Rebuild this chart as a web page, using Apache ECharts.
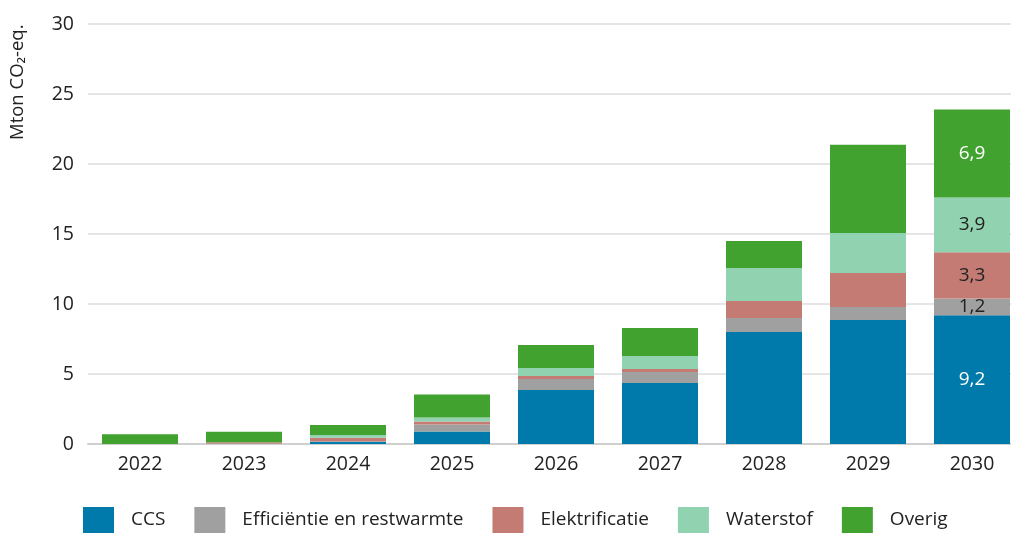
<!DOCTYPE html>
<html>
<head>
<meta charset="utf-8">
<script src="https://cdn.jsdelivr.net/npm/echarts@6/dist/echarts.min.js"></script>
<style>
html, body { margin: 0; padding: 0; background: #fff; overflow: hidden; }
#chart { width: 1024px; height: 534px; }
</style>
</head>
<body>
<div id="chart"></div>
<script>
var years = ['2022', '2023', '2024', '2025', '2026', '2027', '2028', '2029', '2030'];
var ccs = [0, 0, 0.15, 0.9, 3.86, 4.36, 8.0, 8.86, 9.2];
var efficientie = [0, 0.03, 0.05, 0.5, 0.79, 0.79, 1.0, 0.93, 1.2];
var elektrificatie = [0, 0.1, 0.25, 0.21, 0.21, 0.21, 1.21, 2.43, 3.3];
var waterstof = [0, 0, 0.2, 0.29, 0.57, 0.93, 2.36, 2.86, 3.9];
var overig = [0.7, 0.75, 0.7, 1.64, 1.64, 2.0, 1.93, 6.29, 6.3];
// labels printed on the 2030 bar, as in the source
var labels2030 = ['9,2', '1,2', '3,3', '3,9', '6,9'];
var yTicks = [0, 5, 10, 15, 20, 25, 30];

var font = '"Open Sans", "Noto Sans", sans-serif';

function makeSeries(name, values, color, labelText, labelColor) {
    return {
        name: name,
        type: 'bar',
        stack: 'totaal',
        barWidth: 76,
        itemStyle: { color: color },
        data: values.map(function (v, i) {
            if (i !== values.length - 1) return v;
            return {
                value: v,
                label: {
                    show: true,
                    position: 'inside',
                    formatter: labelText,
                    color: labelColor,
                    fontSize: 19,
                    fontFamily: font
                }
            };
        })
    };
}

// the plot runs to the window's right edge, so the chart is a bit wider than the window
var myChart = echarts.init(document.getElementById('chart'));
var option = {
    animation: false,
    textStyle: { fontFamily: font },
    grid: {
        left: 88,
        right: 0,
        top: 24,
        bottom: 90
    },
    legend: {
        left: 78,
        top: 502,
        itemWidth: 31,
        itemHeight: 26,
        itemGap: 29,
        icon: 'rect',
        textStyle: { fontSize: 19, color: '#222', padding: [0, 0, 0, 12] },
        data: ['CCS', 'Efficiëntie en restwarmte', 'Elektrificatie', 'Waterstof', 'Overig']
    },
    graphic: [{
        type: 'text',
        x: 8,
        y: 140,
        rotation: Math.PI / 2,
        style: {
            text: 'Mton CO₂-eq.',
            fontSize: 18.5,
            fontFamily: font,
            fill: '#222',
            textAlign: 'left',
            textVerticalAlign: 'top'
        }
    }],
    xAxis: {
        type: 'category',
        data: years,
        axisLine: { lineStyle: { color: '#cfcfcf', width: 2 } },
        axisTick: { show: false },
        axisLabel: { fontSize: 19.5, color: '#222', margin: 10 }
    },
    yAxis: {
        type: 'value',
        min: yTicks[0],
        max: yTicks[yTicks.length - 1],
        interval: 5,
        axisLine: { show: false },
        axisTick: { show: false },
        axisLabel: { fontSize: 19.5, color: '#222', margin: 14 },
        splitLine: { lineStyle: { color: '#dcdcdc', width: 1.5 } }
    },
    series: [
        makeSeries('CCS', ccs, '#007aaa', labels2030[0], '#ffffff'),
        makeSeries('Efficiëntie en restwarmte', efficientie, '#a0a0a0', labels2030[1], '#222'),
        makeSeries('Elektrificatie', elektrificatie, '#c47b74', labels2030[2], '#222'),
        makeSeries('Waterstof', waterstof, '#91d2b0', labels2030[3], '#222'),
        makeSeries('Overig', overig, '#42a22f', labels2030[4], '#ffffff')
    ]
};
myChart.setOption(option);
</script>
</body>
</html>
